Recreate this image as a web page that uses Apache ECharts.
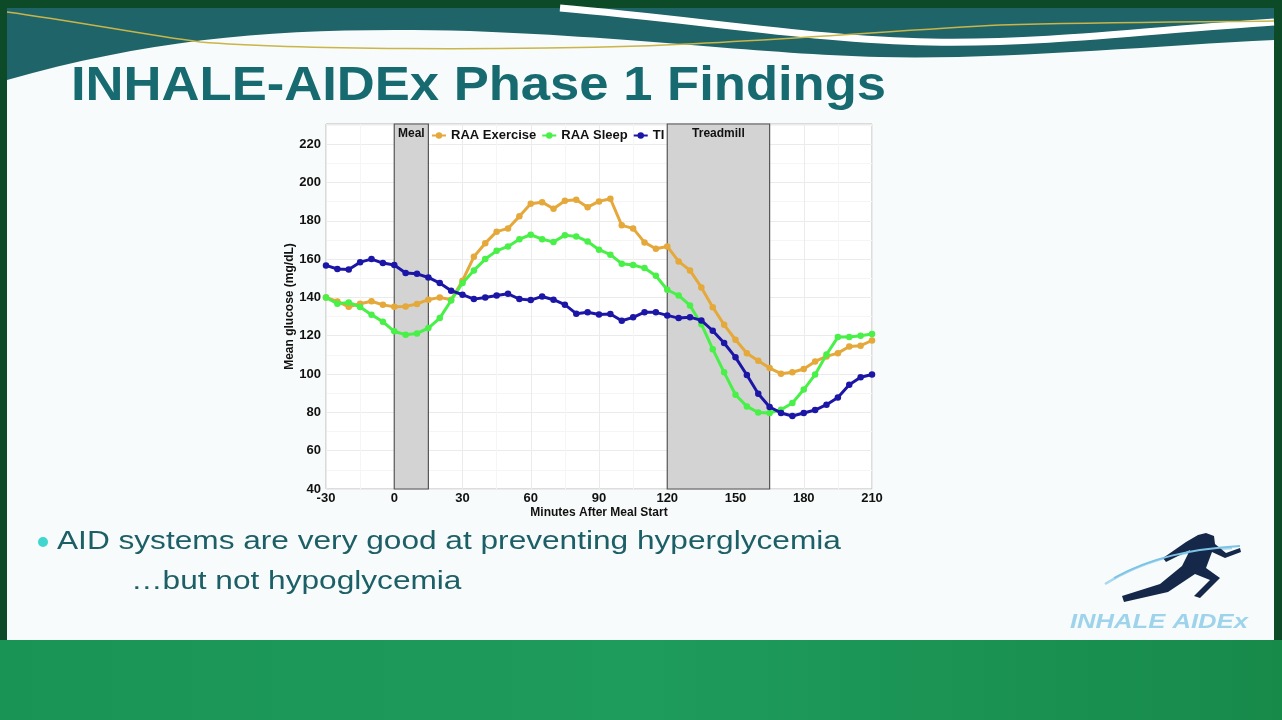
<!DOCTYPE html>
<html>
<head>
<meta charset="utf-8">
<script src="https://cdn.jsdelivr.net/npm/echarts@6/dist/echarts.min.js"></script>
<style>
html,body{margin:0;padding:0;background:#0c4a28;}
#c{width:1282px;height:720px;}
</style>
</head>
<body>
<div id="c"></div>
<script>
// ---- data ----
const minutes = [-30,-25,-20,-15,-10,-5,0,5,10,15,20,25,30,35,40,45,50,55,60,65,70,75,80,85,90,95,100,105,110,115,120,125,130,135,140,145,150,155,160,165,170,175,180,185,190,195,200,205,210];
const raaExercise = [140,137.9,135.1,136.7,138,136.1,135.1,135.3,136.6,138.8,
  140,138.8,148.7,161.2,168.3,174.3,176,182.3,188.9,189.7,
  186.3,190.4,191,187.1,190.1,191.5,177.6,176,168.7,165.4,
  166.6,158.8,154.1,145.2,134.9,125.7,117.9,110.9,106.9,103.1,
  100.2,100.9,102.6,106.6,109.2,110.9,114.4,114.8,117.5];
const raaSleep = [140,136.7,137.4,135,131,127.3,122.3,120.5,121.2,124,
  129.2,138.4,147.5,154.1,160,164.3,166.6,170.4,172.7,170.4,
  168.9,172.5,171.8,169.2,164.9,162.3,157.6,156.9,155.3,151.3,
  144,141,135.8,126,113,100.9,89.2,83.1,79.9,79.7,
  81.4,84.9,91.9,99.7,110.2,119.3,119.3,120,120.9];
const ti = [156.7,154.8,154.6,158.4,160,157.9,156.9,152.7,152.3,150.4,
  147.5,143.5,141.4,139.1,140,141,141.9,139.1,138.6,140.5,
  138.8,136.2,131.5,132.2,131.1,131.3,127.8,129.6,132.3,132.2,
  130.6,129.2,129.7,128,122.6,116.2,108.7,99.5,89.7,82.8,
  79.7,78.1,79.7,81.2,84,87.8,94.4,98.3,99.8];
const seriesNames = ['RAA Exercise','RAA Sleep','TI'];
const seriesColors = ['#E5A83A','#48F048','#1C16A6'];
const mealWindow = [0,15];
const treadmillWindow = [120,165];
const xTicks = [-30,0,30,60,90,120,150,180,210];
const yTicks = [40,60,80,100,120,140,160,180,200,220];
const titleText = 'INHALE-AIDEx Phase 1 Findings';
const bullet1 = 'AID systems are very good at preventing hyperglycemia';
const bullet2 = '\u2026but not hypoglycemia';
const logoText = 'INHALE AIDEx';

const pairs = arr => minutes.map((m,i)=>[m,arr[i]]);
const allData = [raaExercise, raaSleep, ti];

// custom decorative path shape (command list)
const CmdPath = echarts.graphic.extendShape({
  shape: {cmds: []},
  buildPath: function(ctx, shape){
    (shape.cmds||[]).forEach(function(c){
      if (c[0]==='M') ctx.moveTo(c[1],c[2]);
      else if (c[0]==='L') ctx.lineTo(c[1],c[2]);
      else if (c[0]==='C') ctx.bezierCurveTo(c[1],c[2],c[3],c[4],c[5],c[6]);
      else if (c[0]==='Z') ctx.closePath();
    });
  }
});
echarts.graphic.registerShape('cmdPath', CmdPath);

const chart = echarts.init(document.getElementById('c'), null, {renderer:'canvas'});

const FONT = '"Liberation Sans", Arial, sans-serif';

const series = allData.map((d,i)=>({
  name: seriesNames[i],
  type: 'line',
  data: pairs(d),
  symbol: 'circle',
  symbolSize: 6.5,
  lineStyle: {width: 3, color: seriesColors[i]},
  itemStyle: {color: seriesColors[i]},
  z: 5 + i,
  emphasis: {disabled: true},
  animation: false
}));
series[0].markArea = {
  silent: true,
  z: 1,
  itemStyle: {color: '#D3D3D3', borderColor: '#555', borderWidth: 1.2},
  label: {position: 'insideTop', distance: 4, color: '#111', fontWeight: 'bold', fontSize: 12, fontFamily: FONT},
  data: [
    [{name: 'Meal', xAxis: mealWindow[0]}, {xAxis: mealWindow[1]}],
    [{name: 'Treadmill', xAxis: treadmillWindow[0]}, {xAxis: treadmillWindow[1]}]
  ]
};

const graphics = [
  {type:'rect', shape:{x:7,y:8,width:1267,height:632}, style:{fill:'#F8FBFB'}, z:-10, silent:true},
  {type:'rect', shape:{x:0,y:640,width:1282,height:80},
   style:{fill:{type:'linear',x:0,y:0,x2:1,y2:0,colorStops:[{offset:0,color:'#1A9455'},{offset:0.5,color:'#1E9C5C'},{offset:1,color:'#178A4A'}]}}, z:-10, silent:true},
  {type:'cmdPath', shape:{cmds:[['M',7,8],['L',1274,8],['L',1274,40],['C',1150,46,1000,60,880,57],['C',760,54,650,38,470,31],['C',300,27,170,34,7,80],['Z']]},
   style:{fill:'#1F6469'}, z:-9, silent:true},
  {type:'cmdPath', shape:{cmds:[['M',560,8],['C',700,20,820,40,930,42],['C',1050,44,1150,30,1274,22]]},
   style:{fill:null, stroke:'#FFFFFF', lineWidth:7}, z:-8, silent:true},
  {type:'cmdPath', shape:{cmds:[['M',7,12],['C',80,22,140,34,200,42],['C',300,50,500,50,640,46],['C',760,42,900,30,1000,25],['C',1100,22,1200,22,1274,21]]},
   style:{fill:null, stroke:'#C9B548', lineWidth:1.5}, z:-7, silent:true},
  {type:'text', x:71, y:86, scaleX:1.073, style:{text:titleText, font:'bold 49px '+FONT, fill:'#176B70', textVerticalAlign:'middle'}, z:10, silent:true},
  {type:'circle', shape:{cx:43,cy:542,r:5}, style:{fill:'#3ED6CF'}, z:10, silent:true},
  {type:'text', x:57, y:542, scaleX:1.24, style:{text:bullet1, font:'25.5px '+FONT, fill:'#1D5F66', textVerticalAlign:'middle'}, z:10, silent:true},
  {type:'text', x:131, y:582, scaleX:1.24, style:{text:bullet2, font:'25.5px '+FONT, fill:'#1D5F66', textVerticalAlign:'middle'}, z:10, silent:true},
  {type:'cmdPath', shape:{cmds:[['M',1105,584],['C',1140,562,1180,550,1232,548]]}, style:{fill:null, stroke:'#A8D8EE', lineWidth:2.5}, z:10, silent:true},
  {type:'cmdPath', shape:{cmds:[['M',1114,578],['C',1150,558,1190,549,1240,546]]}, style:{fill:null, stroke:'#7CC4E6', lineWidth:2}, z:12, silent:true},
  {type:'polygon', shape:{points:[[1206,533],[1214,536],[1215,544],[1226,553],[1240,548],[1241,552],[1225,558],[1212,552],[1206,568],[1220,578],[1200,598],[1194,596],[1210,580],[1195,574],[1168,592],[1124,602],[1122,596],[1160,584],[1182,566],[1190,550],[1178,556],[1166,562],[1163,558],[1186,542],[1198,535]]},
   style:{fill:'#15284A'}, z:11, silent:true},
  {type:'text', x:1070, y:622, scaleX:1.22, style:{text:logoText, font:'italic bold 21px '+FONT, fill:'#9ED3EC', textVerticalAlign:'middle'}, z:10, silent:true}
];

chart.setOption({
  animation: false,
  backgroundColor: 'transparent',
  textStyle: {fontFamily: FONT},
  graphic: graphics,
  legend: {
    data: seriesNames,
    left: 426, top: 124,
    itemWidth: 14, itemHeight: 8, itemGap: 5,
    textStyle: {fontWeight: 'bold', fontSize: 13, color: '#111', fontFamily: FONT},
    selectedMode: false
  },
  grid: {left: 326, top: 124, width: 546, height: 365, show: true, backgroundColor: '#FFFFFF', borderColor: '#BBBBBB', borderWidth: 1},
  xAxis: {
    type: 'value', min: xTicks[0], max: xTicks[xTicks.length-1], interval: 30,
    name: 'Minutes After Meal Start', nameLocation: 'middle', nameGap: 18, nameMoveOverlap: false,
    nameTextStyle: {fontWeight: 'bold', fontSize: 12, color: '#111', fontFamily: FONT},
    axisLine: {show: false}, axisTick: {show: false},
    axisLabel: {fontWeight: 'bold', fontSize: 13, color: '#111', margin: 3, fontFamily: FONT},
    splitLine: {show: true, lineStyle: {color: '#EBEBEB', width: 1}},
    minorTick: {show: false, splitNumber: 2},
    minorSplitLine: {show: true, lineStyle: {color: '#F5F5F5', width: 1}}
  },
  yAxis: {
    type: 'value', min: yTicks[0], max: 230.5, interval: 20,
    name: 'Mean glucose (mg/dL)', nameLocation: 'middle', nameGap: 30, nameRotate: 90, nameMoveOverlap: false,
    nameTextStyle: {fontWeight: 'bold', fontSize: 12, color: '#111', fontFamily: FONT},
    axisLine: {show: false}, axisTick: {show: false},
    axisLabel: {fontWeight: 'bold', fontSize: 13, color: '#111', margin: 5, showMaxLabel: false, fontFamily: FONT},
    splitLine: {show: true, lineStyle: {color: '#EBEBEB', width: 1}},
    minorTick: {show: false, splitNumber: 2},
    minorSplitLine: {show: true, lineStyle: {color: '#F5F5F5', width: 1}}
  },
  series: series
});
</script>
</body>
</html>
